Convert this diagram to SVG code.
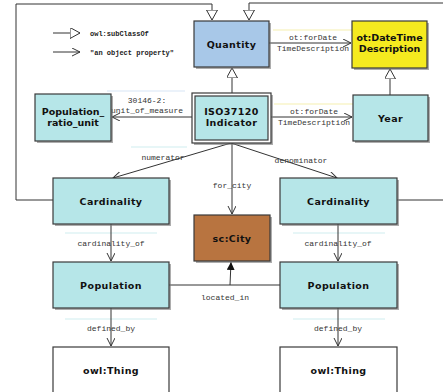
<svg xmlns="http://www.w3.org/2000/svg" width="443" height="392" viewBox="0 0 443 392">
<style>
.n{stroke:#3a3a3a;stroke-width:1.2}
.sh{fill:#777;opacity:0.6}
.t{font-family:"DejaVu Sans",Verdana,sans-serif;font-weight:bold;font-size:9.5px;letter-spacing:0.4px;fill:#111;text-anchor:middle}
.tn{letter-spacing:0px}
.l{font-family:"Liberation Mono","Courier New",monospace;font-size:8px;fill:#333;text-anchor:middle}
.lg{font-family:"Liberation Mono","Courier New",monospace;font-size:7px;font-weight:bold;fill:#222}
.c{fill:none;stroke:#333;stroke-width:1}
.f{stroke-width:1.2;fill:none}
</style>
<defs>
<marker id="open" markerWidth="10" markerHeight="10" refX="8" refY="4" orient="auto" markerUnits="userSpaceOnUse">
<path d="M0,0 L8,4 L0,8" fill="none" stroke="#333" stroke-width="1"/>
</marker>
<marker id="tri" markerWidth="14" markerHeight="14" refX="10" refY="5.5" orient="auto" markerUnits="userSpaceOnUse">
<path d="M0,0 L10,5.5 L0,11 Z" fill="#fff" stroke="#333" stroke-width="1"/>
</marker>
<marker id="fill" markerWidth="10" markerHeight="10" refX="8" refY="4" orient="auto" markerUnits="userSpaceOnUse">
<path d="M0,0 L8,4 L0,8 Z" fill="#111"/>
</marker>
</defs>
<rect width="443" height="392" fill="#fff"/>

<g id="legend">
<line x1="53" y1="33" x2="80" y2="33" class="c" marker-end="url(#tri)"/>
<text x="90" y="35.5" class="lg">owl:subClassOf</text>
<line x1="53" y1="52" x2="80" y2="52" class="c" marker-end="url(#open)"/>
<text x="90" y="54.5" class="lg">"an object property"</text>
</g>

<g id="faint">
<line x1="273" y1="30" x2="352" y2="30" class="f" stroke="#f6f0b0"/>
<line x1="274" y1="104" x2="353" y2="104" class="f" stroke="#f6f0b0"/>
<line x1="107" y1="91" x2="185" y2="91" class="f" stroke="#d8e6f6"/>
<line x1="131" y1="147" x2="187" y2="147" class="f" stroke="#cfeef0"/>
<line x1="65" y1="233" x2="157" y2="233" class="f" stroke="#cfeef0"/>
<line x1="293" y1="233" x2="385" y2="233" class="f" stroke="#cfeef0"/>
<line x1="65" y1="319" x2="157" y2="319" class="f" stroke="#cfeef0"/>
<line x1="293" y1="319" x2="385" y2="319" class="f" stroke="#cfeef0"/>
</g>

<g id="connectors">
<polyline points="53,200 16,200 16,4 212,4 212,20" class="c" marker-end="url(#tri)"/>
<polyline points="397,200 444,200 444,3 249,3 249,20" class="c" marker-end="url(#tri)"/>
<line x1="232" y1="93" x2="232" y2="68" class="c" marker-end="url(#tri)"/>
<line x1="390" y1="95" x2="390" y2="69" class="c" marker-end="url(#tri)"/>
<line x1="269" y1="43" x2="351" y2="43" class="c" marker-end="url(#open)"/>
<text x="313" y="40" class="l">ot:forDate</text>
<text x="313" y="51" class="l">TimeDescription</text>
<line x1="271" y1="117" x2="352" y2="117" class="c" marker-end="url(#open)"/>
<text x="314" y="114" class="l">ot:forDate</text>
<text x="314" y="125" class="l">TimeDescription</text>
<line x1="192" y1="117" x2="112" y2="117" class="c" marker-end="url(#open)"/>
<text x="147" y="103" class="l">30146-2:</text>
<text x="147" y="113" class="l">unit_of_measure</text>
<line x1="231" y1="143" x2="113" y2="178" class="c" marker-end="url(#open)"/>
<text x="163" y="160" class="l">numerator</text>
<line x1="231" y1="143" x2="337" y2="178" class="c" marker-end="url(#open)"/>
<text x="301" y="163" class="l">denominator</text>
<line x1="232" y1="143" x2="232" y2="214" class="c" marker-end="url(#open)"/>
<text x="232" y="188" class="l">for_city</text>
<line x1="111" y1="224" x2="111" y2="261" class="c" marker-end="url(#open)"/>
<text x="111" y="246" class="l">cardinality_of</text>
<line x1="338" y1="224" x2="338" y2="261" class="c" marker-end="url(#open)"/>
<text x="338" y="246" class="l">cardinality_of</text>
<polyline points="169,285 280,285" class="c"/>
<line x1="230" y1="285" x2="231" y2="262" class="c" marker-end="url(#fill)"/>
<text x="225" y="300" class="l">located_in</text>
<line x1="111" y1="308" x2="111" y2="346" class="c" marker-end="url(#open)"/>
<text x="111" y="331" class="l">defined_by</text>
<line x1="338" y1="308" x2="338" y2="346" class="c" marker-end="url(#open)"/>
<text x="338" y="331" class="l">defined_by</text>
</g>

<g id="quantity">
<rect x="196" y="23" width="75" height="46" class="sh"/>
<rect x="194" y="21" width="75" height="46" fill="#a8c8e8" class="n"/>
<text x="231.5" y="47.5" class="t">Quantity</text>
</g>
<g id="datetime">
<rect x="354" y="23" width="75" height="47" class="sh"/>
<rect x="352" y="21" width="75" height="47" fill="#f5ea1f" class="n"/>
<text x="389.5" y="41" class="t tn">ot:DateTime</text>
<text x="389.5" y="52" class="t tn">Description</text>
</g>
<g id="iso">
<rect x="194" y="95" width="79" height="50" class="sh"/>
<rect x="192" y="93" width="79" height="50" fill="#fff" class="n"/>
<rect x="195" y="96" width="73" height="44" fill="#b6e6e8" class="n"/>
<text x="231.5" y="115" class="t">ISO37120</text>
<text x="231.5" y="126" class="t">Indicator</text>
</g>
<g id="year">
<rect x="355" y="97" width="75" height="46" class="sh"/>
<rect x="353" y="95" width="75" height="46" fill="#b6e6e8" class="n"/>
<text x="390.5" y="121.5" class="t">Year</text>
</g>
<g id="popratio">
<rect x="37" y="96" width="76" height="47" class="sh"/>
<rect x="35" y="94" width="76" height="47" fill="#b6e6e8" class="n"/>
<text x="73" y="115" class="t tn">Population_</text>
<text x="73" y="126" class="t tn">ratio_unit</text>
</g>
<g id="card_left">
<rect x="55" y="180" width="116" height="46" class="sh"/>
<rect x="53" y="178" width="116" height="46" fill="#b6e6e8" class="n"/>
<text x="111" y="204.5" class="t">Cardinality</text>
</g>
<g id="card_right">
<rect x="282" y="180" width="117" height="46" class="sh"/>
<rect x="280" y="178" width="117" height="46" fill="#b6e6e8" class="n"/>
<text x="338.5" y="204.5" class="t">Cardinality</text>
</g>
<g id="city">
<rect x="196" y="217" width="76" height="46" class="sh"/>
<rect x="194" y="215" width="76" height="46" fill="#b87440" class="n"/>
<text x="232" y="241.5" class="t">sc:City</text>
</g>
<g id="pop_left">
<rect x="55" y="264" width="116" height="46" class="sh"/>
<rect x="53" y="262" width="116" height="46" fill="#b6e6e8" class="n"/>
<text x="111" y="288.5" class="t">Population</text>
</g>
<g id="pop_right">
<rect x="282" y="264" width="117" height="46" class="sh"/>
<rect x="280" y="262" width="117" height="46" fill="#b6e6e8" class="n"/>
<text x="338.5" y="288.5" class="t">Population</text>
</g>
<g id="thing_left">
<rect x="53" y="347" width="116" height="50" fill="#fff" class="n"/>
<text x="111" y="373.5" class="t">owl:Thing</text>
</g>
<g id="thing_right">
<rect x="280" y="347" width="117" height="50" fill="#fff" class="n"/>
<text x="338.5" y="373.5" class="t">owl:Thing</text>
</g>
</svg>
